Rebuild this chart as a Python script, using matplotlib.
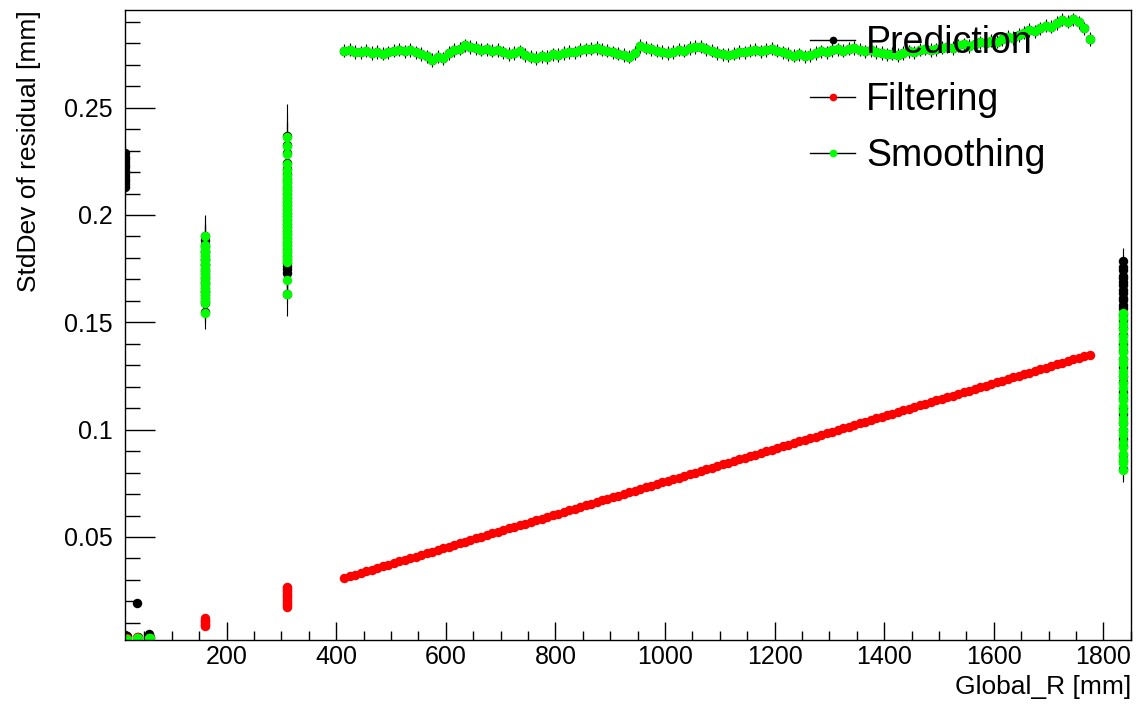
import matplotlib
matplotlib.use("Agg")
import matplotlib.pyplot as plt
from matplotlib.ticker import MultipleLocator, FuncFormatter
from matplotlib.lines import Line2D
import numpy as np

plt.rcParams['font.family'] = ['Liberation Sans', 'DejaVu Sans']

# ---------------- data ----------------
# inner (vertex) layers
inner_R = [15.5, 17.5, 37, 39, 58, 60]
inner_pred = [0.0042, 0.0038, 0.0192, 0.0034, 0.0050, 0.0036]
inner_filt = [0.0030, 0.0029, 0.0032, 0.0030, 0.0031, 0.0029]
inner_smooth = [0.0026, 0.0025, 0.0030, 0.0028, 0.0029, 0.0027]

# first layer prediction column
first_R = 15.5
first_pred = [0.2290, 0.2272, 0.2261, 0.2246, 0.2231, 0.2222, 0.2207, 0.2195,
              0.2184, 0.2170, 0.2158, 0.2143, 0.2130]

# layer at R ~ 160 mm
l160_R = 160
l160_pred = [0.1903, 0.1884, 0.1858, 0.1849, 0.1831, 0.1826, 0.1809, 0.1796,
             0.1791, 0.1772, 0.1765, 0.1749, 0.1738, 0.1727, 0.1711, 0.1702,
             0.1688, 0.1679, 0.1662, 0.1648, 0.1641, 0.1625, 0.1613, 0.1598,
             0.1589, 0.1548]
l160_smooth = [0.1900, 0.1860, 0.1851, 0.1835, 0.1822, 0.1812, 0.1798, 0.1787,
               0.1774, 0.1768, 0.1752, 0.1741, 0.1730, 0.1714, 0.1705, 0.1690,
               0.1681, 0.1664, 0.1652, 0.1643, 0.1628, 0.1615, 0.1601, 0.1590,
               0.1545]
l160_filt = [0.0121, 0.0114, 0.0108, 0.0102, 0.0096, 0.0089, 0.0084]

# layer at R ~ 310 mm
l310_R = 310
l310_pred = [0.2366, 0.2325, 0.2288, 0.2240, 0.2212, 0.2191, 0.2170, 0.2153,
             0.2131, 0.2118, 0.2096, 0.2081, 0.2062, 0.2047, 0.2029, 0.2011,
             0.1996, 0.1978, 0.1960, 0.1944, 0.1925, 0.1911, 0.1893, 0.1876,
             0.1860, 0.1842, 0.1827, 0.1809, 0.1795, 0.1777, 0.1761, 0.1748,
             0.1731, 0.1632]
l310_smooth = [0.2364, 0.2322, 0.2285, 0.2238, 0.2209, 0.2188, 0.2168, 0.2150,
               0.2129, 0.2113, 0.2094, 0.2078, 0.2060, 0.2043, 0.2026, 0.2009,
               0.1993, 0.1975, 0.1957, 0.1941, 0.1922, 0.1907, 0.1890, 0.1872,
               0.1857, 0.1839, 0.1823, 0.1806, 0.1790, 0.1781, 0.1698, 0.1632]
l310_filt = [0.0268, 0.0261, 0.0253, 0.0246, 0.0239, 0.0231, 0.0224, 0.0216,
             0.0208, 0.0199, 0.0190, 0.0181, 0.0174]

# drift-chamber region (R from 415 to 1775 mm)
band_R = [415, 425, 435, 445, 455, 465, 475, 485, 495, 505, 515, 525, 535, 545,
          555, 565, 575, 585, 595, 605, 615, 625, 635, 645, 655, 665, 675, 685,
          695, 705, 715, 725, 735, 745, 755, 765, 775, 785, 795, 805, 815, 825,
          835, 845, 855, 865, 875, 885, 895, 905, 915, 925, 935, 945, 955, 965,
          975, 985, 995, 1005, 1015, 1025, 1035, 1045, 1055, 1065, 1075, 1085,
          1095, 1105, 1115, 1125, 1135, 1145, 1155, 1165, 1175, 1185, 1195,
          1205, 1215, 1225, 1235, 1245, 1255, 1265, 1275, 1285, 1295, 1305,
          1315, 1325, 1335, 1345, 1355, 1365, 1375, 1385, 1395, 1405, 1415,
          1425, 1435, 1445, 1455, 1465, 1475, 1485, 1495, 1505, 1515, 1525,
          1535, 1545, 1555, 1565, 1575, 1585, 1595, 1605, 1615, 1625, 1635,
          1645, 1655, 1665, 1675, 1685, 1695, 1705, 1715, 1725, 1735, 1745,
          1755, 1765, 1775]
band_smooth = [0.2765, 0.2770, 0.2760, 0.2758, 0.2765, 0.2755, 0.2760, 0.2752,
               0.2758, 0.2765, 0.2770, 0.2762, 0.2768, 0.2758, 0.2750, 0.2740,
               0.2722, 0.2738, 0.2730, 0.2755, 0.2768, 0.2775, 0.2790, 0.2782,
               0.2778, 0.2770, 0.2772, 0.2765, 0.2768, 0.2758, 0.2750, 0.2755,
               0.2762, 0.2745, 0.2738, 0.2732, 0.2740, 0.2736, 0.2748, 0.2745,
               0.2755, 0.2760, 0.2758, 0.2768, 0.2772, 0.2775, 0.2778, 0.2770,
               0.2765, 0.2758, 0.2752, 0.2745, 0.2738, 0.2755, 0.2788, 0.2780,
               0.2772, 0.2765, 0.2760, 0.2755, 0.2760, 0.2770, 0.2765, 0.2778,
               0.2782, 0.2785, 0.2772, 0.2765, 0.2755, 0.2748, 0.2745, 0.2752,
               0.2760, 0.2758, 0.2765, 0.2770, 0.2762, 0.2768, 0.2775, 0.2765,
               0.2758, 0.2750, 0.2742, 0.2748, 0.2740, 0.2745, 0.2755, 0.2762,
               0.2758, 0.2768, 0.2772, 0.2765, 0.2775, 0.2778, 0.2770, 0.2762,
               0.2768, 0.2760, 0.2755, 0.2748, 0.2752, 0.2745, 0.2755, 0.2762,
               0.2758, 0.2770, 0.2775, 0.2768, 0.2772, 0.2780, 0.2785, 0.2778,
               0.2790, 0.2795, 0.2788, 0.2798, 0.2805, 0.2800, 0.2812, 0.2808,
               0.2820, 0.2830, 0.2825, 0.2838, 0.2850, 0.2862, 0.2855, 0.2870,
               0.2882, 0.2878, 0.2895, 0.2910, 0.2900, 0.2912, 0.2898, 0.2870,
               0.2820]
band_filt = [0.0310, 0.0318, 0.0325, 0.0333, 0.0341, 0.0348, 0.0356, 0.0364,
             0.0371, 0.0379, 0.0387, 0.0394, 0.0402, 0.0409, 0.0417, 0.0425,
             0.0432, 0.0440, 0.0448, 0.0455, 0.0463, 0.0471, 0.0478, 0.0486,
             0.0494, 0.0501, 0.0509, 0.0517, 0.0524, 0.0532, 0.0540, 0.0547,
             0.0555, 0.0562, 0.0570, 0.0578, 0.0585, 0.0593, 0.0601, 0.0608,
             0.0616, 0.0624, 0.0631, 0.0639, 0.0647, 0.0654, 0.0662, 0.0670,
             0.0677, 0.0685, 0.0693, 0.0700, 0.0708, 0.0715, 0.0723, 0.0731,
             0.0738, 0.0746, 0.0754, 0.0761, 0.0769, 0.0777, 0.0784, 0.0792,
             0.0800, 0.0807, 0.0815, 0.0823, 0.0830, 0.0838, 0.0846, 0.0853,
             0.0861, 0.0868, 0.0876, 0.0884, 0.0891, 0.0899, 0.0907, 0.0914,
             0.0922, 0.0930, 0.0937, 0.0945, 0.0953, 0.0960, 0.0968, 0.0976,
             0.0983, 0.0991, 0.0999, 0.1006, 0.1014, 0.1021, 0.1029, 0.1037,
             0.1044, 0.1052, 0.1060, 0.1067, 0.1075, 0.1083, 0.1090, 0.1098,
             0.1106, 0.1113, 0.1121, 0.1129, 0.1136, 0.1144, 0.1152, 0.1159,
             0.1167, 0.1174, 0.1182, 0.1190, 0.1197, 0.1205, 0.1213, 0.1220,
             0.1228, 0.1236, 0.1243, 0.1251, 0.1259, 0.1266, 0.1274, 0.1282,
             0.1289, 0.1297, 0.1305, 0.1312, 0.1320, 0.1327, 0.1335, 0.1343,
             0.1350]
band_pred_err = 0.0031
band_smooth_err = 0.0024

# outer layer at R ~ 1835 mm
outer_R = 1835
outer_pred = [0.1785, 0.1758, 0.1744, 0.1718, 0.1707, 0.1686, 0.1672, 0.1650,
              0.1637, 0.1615, 0.1603, 0.1582, 0.1565, 0.1538, 0.1512, 0.1473,
              0.1442, 0.1400, 0.1368, 0.1327, 0.1293, 0.1252, 0.1220, 0.1177,
              0.1145, 0.1103, 0.1072, 0.1030, 0.0997, 0.0955, 0.0922, 0.0883,
              0.0852, 0.0818]
outer_smooth = [0.1545, 0.1521, 0.1493, 0.1470, 0.1438, 0.1414, 0.1383, 0.1360,
                0.1328, 0.1305, 0.1273, 0.1250, 0.1218, 0.1195, 0.1163, 0.1140,
                0.1108, 0.1085, 0.1053, 0.1030, 0.0998, 0.0975, 0.0943, 0.0920,
                0.0888, 0.0864, 0.0843, 0.0812]

labels = ["Prediction", "Filtering", "Smoothing"]
colors = ["#000000", "#ff0000", "#00ff00"]

# ---------------- assemble series ----------------
pred_R = (list(inner_R) + [first_R] * len(first_pred) + [l160_R] * len(l160_pred)
          + [l310_R] * len(l310_pred) + list(band_R) + [outer_R] * len(outer_pred))
pred_v = (list(inner_pred) + first_pred + l160_pred + l310_pred
          + list(band_smooth) + outer_pred)
pred_e = ([0.0008] * len(inner_pred) + [0.0040] * len(first_pred)
          + [v * 0.052 for v in l160_pred] + [v * 0.064 for v in l310_pred]
          + [band_pred_err] * len(band_R) + [0.0060] * len(outer_pred))

filt_R = (list(inner_R) + [l160_R] * len(l160_filt) + [l310_R] * len(l310_filt)
          + list(band_R))
filt_v = list(inner_filt) + l160_filt + l310_filt + list(band_filt)
filt_e = [0.0002] * len(filt_v)

sm_R = (list(inner_R) + [l160_R] * len(l160_smooth) + [l310_R] * len(l310_smooth)
        + list(band_R) + [outer_R] * len(outer_smooth))
sm_v = (list(inner_smooth) + l160_smooth + l310_smooth + list(band_smooth)
        + outer_smooth)
sm_e = ([0.0005] * len(inner_smooth) + [v * 0.03 for v in l160_smooth]
        + [v * 0.03 for v in l310_smooth] + [band_smooth_err] * len(band_R)
        + [0.0040] * len(outer_smooth))

# ---------------- figure ----------------
fig = plt.figure(figsize=(11.4, 7.05), dpi=100)
ax = fig.add_axes([0.1096, 0.0922, 0.8824, 0.8936])

ms = 6.8
for R, v, e, col in [(pred_R, pred_v, pred_e, colors[0]),
                     (filt_R, filt_v, filt_e, colors[1]),
                     (sm_R, sm_v, sm_e, colors[2])]:
    ax.errorbar(R, v, yerr=e, fmt='o', ms=ms, mfc=col, mec=col, mew=0,
                ecolor='black', elinewidth=0.8, capsize=1.8, capthick=0.8)

ax.set_xlim(14.5, 1850)
ax.set_ylim(0.0020, 0.2955)

ax.xaxis.set_major_locator(MultipleLocator(200))
ax.xaxis.set_minor_locator(MultipleLocator(50))
ax.yaxis.set_major_locator(MultipleLocator(0.05))
ax.yaxis.set_minor_locator(MultipleLocator(0.01))
ax.yaxis.set_major_formatter(FuncFormatter(lambda v, p: "%g" % round(v, 4)))

ax.tick_params(axis='both', which='both', direction='in', top=False, right=False,
               labelsize=18, width=1.0, color='black')
ax.tick_params(axis='x', which='major', length=13, pad=3.5)
ax.tick_params(axis='x', which='minor', length=6.5)
ax.tick_params(axis='y', which='major', length=21.6, pad=9)
ax.tick_params(axis='y', which='minor', length=10.8)
for s in ax.spines.values():
    s.set_linewidth(1.0)
    s.set_color('black')

ax.set_xlabel("Global_R [mm]", fontsize=19, loc='right')
ax.set_ylabel("StdDev of residual [mm]", fontsize=19, loc='top')
ax.xaxis.set_label_coords(1.0, -0.055)
ax.yaxis.set_label_coords(-0.083, 1.0)

handles = [Line2D([0], [0], color='black', lw=1.0, marker='o', ms=4.5,
                  mfc=c, mec=c) for c in colors]
leg = ax.legend(handles, labels, loc='upper left', fontsize=27,
                bbox_to_anchor=(810 / 1140, 1 - 25 / 705),
                bbox_transform=fig.transFigure, frameon=False,
                borderpad=0, borderaxespad=0, handlelength=1.2,
                handletextpad=0.3, labelspacing=0.55)

fig.savefig("out.png", dpi=100)
